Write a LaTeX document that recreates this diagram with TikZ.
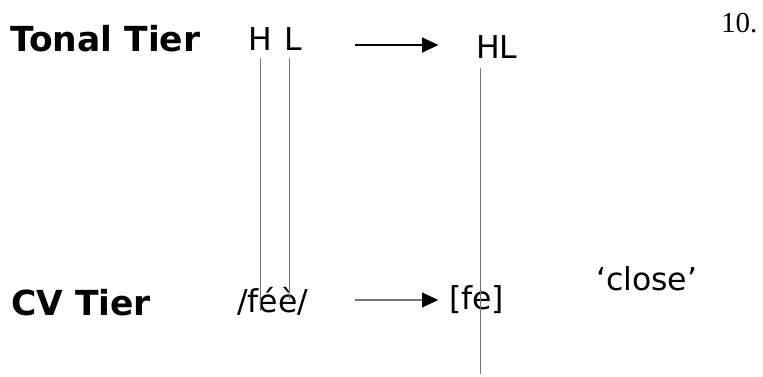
\documentclass[tikz,border=0pt]{standalone}
\usepackage{fontspec}
\setmainfont{DejaVu Sans}
\newfontfamily\numfont{Liberation Serif}
\usetikzlibrary{arrows.meta}
\begin{document}
\begin{tikzpicture}[x=1pt,y=-1pt,
  lbl/.style={inner sep=0pt,anchor=base west,font=\fontsize{31.5}{36}\selectfont},
  tier/.style={lbl,font=\fontsize{34.5}{38}\selectfont\bfseries},
  assoc/.style={line width=1pt,draw=black!55},
  derive/.style={line width=1.1pt,-{Triangle[length=16pt,width=15pt,fill=black]}}]
\useasboundingbox (0,0) rectangle (763,376);
\node[tier] (tonal) at (10,51) {Tonal Tier};
\node[tier] (cv) at (11,315) {CV Tier};
\node[lbl] (H) at (248,50) {H};
\node[lbl] (L) at (284,50) {L};
\node[lbl] (HL) at (476,58) {HL};
\node[lbl] (fee) at (237,312) {/féè/};
\node[lbl] (fe) at (449,309) {[fe]};
\node[lbl] (close) at (596,290) {‘close’};
\node[inner sep=0pt,anchor=base west,font=\numfont\fontsize{29}{32}\selectfont] (num) at (721,32) {10.};
% association lines
\coordinate (Htop) at (260,58);
\coordinate (Hbot) at (260,311);
\coordinate (Ltop) at (289,58);
\coordinate (Lbot) at (289,300);
\coordinate (HLtop) at (480,68);
\coordinate (HLbot) at (480,374);
\draw[assoc] (Htop) -- (Hbot);
\draw[assoc] (Ltop) -- (Lbot);
\draw[assoc] (HLtop) -- (HLbot);
% derivation arrows
\coordinate (a1s) at (355,45);
\coordinate (a1e) at (438,45);
\coordinate (a2s) at (355,300);
\coordinate (a2e) at (438,300);
\draw[derive,draw=black] (a1s) -- (a1e);
\draw[derive,draw=black!55] (a2s) -- (a2e);
\fill[black] (422,37.5) -- (438,45) -- (422,52.5) -- cycle;
\fill[black] (422,292.5) -- (438,300) -- (422,307.5) -- cycle;
\end{tikzpicture}
\end{document}
